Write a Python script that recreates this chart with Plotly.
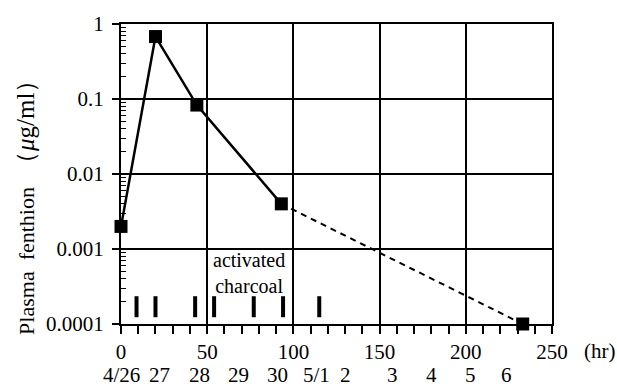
import math
import plotly.graph_objects as go

# ---- data ----
hours = [0, 20, 44, 93]
conc = [0.002, 0.68, 0.083, 0.004]
dash_hours = [93, 233]
dash_conc = [0.004, 0.0001]
last_hours = [233]
last_conc = [0.0001]
charcoal_hours = [9, 20, 43, 54, 77, 94, 115]
charcoal_level = [0.00017] * len(charcoal_hours)
x_ticks = [0, 50, 100, 150, 200, 250]
y_ticks = [0.0001, 0.001, 0.01, 0.1, 1]
y_tick_labels = ["0.0001", "0.001", "0.01", "0.1", "1"]
date_labels = ["4/26", "27", "28", "29", "30", "5/1", "2", "3", "4", "5", "6"]
date_hours = [0, 22.5, 45.5, 68, 90.5, 113.5, 130.5, 157.5, 180, 202.5, 223.5]

FONT = "Liberation Serif"
fig = go.Figure()

fig.add_trace(go.Scatter(x=dash_hours, y=dash_conc, mode="lines",
                         line=dict(color="black", width=2, dash="6px,5px"),
                         cliponaxis=False, showlegend=False))
fig.add_trace(go.Scatter(x=hours, y=conc, mode="lines+markers",
                         line=dict(color="black", width=2.5),
                         marker=dict(symbol="square", size=13, color="black"),
                         cliponaxis=False, showlegend=False))
fig.add_trace(go.Scatter(x=last_hours, y=last_conc, mode="markers",
                         marker=dict(symbol="square", size=13, color="black"),
                         cliponaxis=False, showlegend=False))
fig.add_trace(go.Scatter(x=charcoal_hours, y=charcoal_level, mode="markers",
                         marker=dict(symbol="line-ns", size=15,
                                     line=dict(color="black", width=4)),
                         showlegend=False))

minor_y = [m * 10.0 ** e for e in range(-4, 0) for m in range(2, 10)]

fig.update_xaxes(range=[0, 250], tickvals=x_ticks, ticks="outside", ticklen=8,
                 tickwidth=1.5, tickcolor="black", showline=True, linewidth=2,
                 linecolor="black", mirror=True, showgrid=True, gridcolor="black",
                 gridwidth=1.5, zeroline=False,
                 minor=dict(dtick=10, ticks="outside", ticklen=8, tickwidth=1.5,
                            tickcolor="black", showgrid=False),
                 tickfont=dict(family=FONT, size=21, color="black"),
                 ticklabelstandoff=0)
fig.update_yaxes(type="log", range=[-4, 0], tickvals=y_ticks, ticktext=y_tick_labels,
                 ticks="outside", ticklen=7, tickwidth=1.5, tickcolor="black",
                 showline=True, linewidth=2, linecolor="black", mirror=True,
                 showgrid=True, gridcolor="black", gridwidth=1.5, zeroline=False,
                 minor=dict(tickvals=minor_y, ticks="inside", ticklen=5, tickwidth=1.2,
                            tickcolor="black", showgrid=False),
                 tickfont=dict(family=FONT, size=21, color="black"),
                 ticklabelstandoff=4)

for lbl, h in zip(date_labels, date_hours):
    fig.add_annotation(x=h, y=-0.17, xref="x", yref="paper", text=lbl,
                       showarrow=False, xanchor="center", yanchor="middle",
                       font=dict(family=FONT, size=21, color="black"))

fig.add_annotation(x=1.07, y=-0.09, xref="paper", yref="paper", text="(hr)",
                   showarrow=False, xanchor="left", yanchor="middle",
                   font=dict(family=FONT, size=21, color="black"))
fig.add_annotation(x=74, y=math.log10(0.00048), xref="x", yref="y",
                   text="activated<br>charcoal",
                   showarrow=False, xanchor="center", yanchor="middle",
                   font=dict(family=FONT, size=20, color="black"))
fig.add_annotation(x=-0.223, y=0.41, xref="paper", yref="paper",
                   text="Plasma\u00a0\u00a0fenthion\u00a0\u00a0"
                        "<span style='font-size:25px'>（<i>μ</i>g/ml）</span>",
                   textangle=-90,
                   showarrow=False, xanchor="center", yanchor="middle",
                   font=dict(family=FONT, size=22, color="black"))

fig.update_layout(width=617, height=386, margin=dict(l=121, r=65, t=17, b=62),
                  paper_bgcolor="white", plot_bgcolor="white", showlegend=False)

fig.write_html("out.html", config={"displayModeBar": False},
               post_script="document.body.style.margin='0';"
                           "document.body.style.overflow='hidden';")
